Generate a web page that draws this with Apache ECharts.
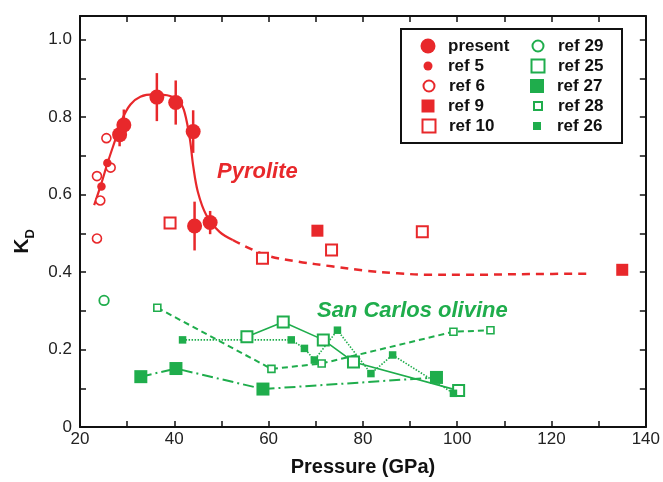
<!DOCTYPE html>
<html><head><meta charset="utf-8">
<script src="https://cdn.jsdelivr.net/npm/echarts@6/dist/echarts.min.js"></script>
<style>html,body{margin:0;padding:0;background:#fff}#c{width:663px;height:482px}</style>
</head><body><div id="c"></div>
<script>
// ---- data ----
const xTicks = [20, 40, 60, 80, 100, 120, 140];
const yTicks = [0, 0.2, 0.4, 0.6, 0.8, 1.0];

const presentX = [28.4, 29.3, 36.3, 40.3, 44.0, 44.3, 47.6];
const presentY = [0.755, 0.780, 0.852, 0.838, 0.763, 0.519, 0.528];
const presentErr = [0.03, 0.04, 0.062, 0.057, 0.055, 0.063, 0.03];

const ref5X = [24.55, 25.8];
const ref5Y = [0.621, 0.682];
const ref6X = [23.6, 24.3, 23.6, 25.6, 26.5];
const ref6Y = [0.487, 0.585, 0.648, 0.746, 0.670];
const ref9X = [70.35, 135.0];
const ref9Y = [0.507, 0.406];
const ref10X = [39.1, 58.7, 73.35, 92.6];
const ref10Y = [0.527, 0.436, 0.457, 0.504];

const ref29X = [25.1];
const ref29Y = [0.327];
const ref25X = [55.4, 63.1, 71.6, 78.0, 100.3];
const ref25Y = [0.233, 0.271, 0.225, 0.168, 0.094];
const ref27X = [32.9, 40.35, 58.8, 95.6];
const ref27Y = [0.130, 0.151, 0.098, 0.128];
const ref28X = [36.4, 60.6, 71.25, 99.2, 107.05];
const ref28Y = [0.308, 0.150, 0.164, 0.246, 0.250];
const ref26X = [41.75, 64.8, 67.6, 69.7, 74.6, 81.7, 86.3, 99.2];
const ref26Y = [0.225, 0.225, 0.203, 0.173, 0.250, 0.138, 0.186, 0.087];

const fitSolidX = [23.0, 24.4, 25.9, 27.55, 28.95, 30.7, 32.8, 35.6, 39.1, 41.2, 42.2, 43.3, 44.0, 45.0, 46.8, 49.6, 52.4];
const fitSolidY = [0.573, 0.624, 0.684, 0.744, 0.795, 0.833, 0.853, 0.859, 0.855, 0.838, 0.812, 0.744, 0.675, 0.607, 0.547, 0.504, 0.483];
const fitDashX = [52.4, 59.4, 66.4, 73.35, 80.35, 87.3, 94.3, 101.3, 115.3, 127.9];
const fitDashY = [0.483, 0.444, 0.427, 0.415, 0.404, 0.397, 0.393, 0.393, 0.395, 0.396];

const legendCol1 = ['present', 'ref 5', 'ref 6', 'ref 9', 'ref 10'];
const legendCol2 = ['ref 29', 'ref 25', 'ref 27', 'ref 28', 'ref 26'];

// ---- chart ----
const RED = '#e8282b', GREEN = '#1fad4c';
const FONT = 'Liberation Sans, Arial, Helvetica, sans-serif';
const SQUARE = 'path://M0,0L10,0L10,10L0,10Z';
const zip = (xs, ys) => xs.map((x, i) => [x, ys[i]]);

const chart = echarts.init(document.getElementById('c'), null, {renderer: 'canvas'});

function scatter(name, xs, ys, symbol, size, color, open, bw) {
  return {
    type: 'scatter', name, data: zip(xs, ys), symbol, symbolSize: size, z: 5,
    itemStyle: open ? {color: '#fff', borderColor: color, borderWidth: bw || 2, opacity: 1}
                    : {color: color, opacity: 1}
  };
}
function line(name, xs, ys, color, width, type, smooth) {
  return {
    type: 'line', name, data: zip(xs, ys), showSymbol: false, symbol: 'none', z: 3,
    smooth: smooth || false, silent: true,
    lineStyle: {color, width, type}
  };
}

const legendSizes = {
  'present': 15, 'ref 5': 9, 'ref 6': 11, 'ref 9': 13, 'ref 10': 13,
  'ref 29': 11, 'ref 25': 13, 'ref 27': 14, 'ref 28': 8, 'ref 26': 8
};
const rowCenters = [46, 66, 86, 106, 126];
const legends = [];
[[legendCol1, 428], [legendCol2, 537]].forEach(([names, cx]) => {
  names.forEach((n, i) => {
    const h = legendSizes[n];
    legends.push({
      data: [n], left: cx - h / 2, top: rowCenters[i] - 8.5, padding: 0,
      itemWidth: 30, itemHeight: h, selectedMode: false,
      textStyle: {fontFamily: FONT, fontSize: 17, fontWeight: 'bold', color: '#111'}
    });
  });
});

const axisCommon = {
  type: 'value', splitLine: {show: false},
  axisLine: {show: true, onZero: false, lineStyle: {color: '#111', width: 2}},
  axisTick: {show: true, inside: true, length: 6, lineStyle: {color: '#111', width: 1.5}}
};

const option = {
  backgroundColor: '#fff',
  animation: false,
  grid: {left: 80, right: 11, top: 16, bottom: 52, containLabel: false},
  legend: legends,
  xAxis: [
    Object.assign({}, axisCommon, {
      position: 'bottom', min: 20, max: 140, interval: 10,
      name: 'Pressure (GPa)', nameLocation: 'middle', nameGap: 30,
      nameTextStyle: {fontFamily: FONT, fontSize: 20, fontWeight: 'bold', color: '#111'},
      axisLabel: {
        show: true, interval: 0, margin: 4, fontFamily: FONT, fontSize: 17, color: '#222',
        formatter: v => xTicks.indexOf(v) >= 0 ? String(v) : ''
      }
    }),
    Object.assign({}, axisCommon, {
      position: 'top', min: 20, max: 140, interval: 10, axisLabel: {show: false}
    })
  ],
  yAxis: [
    Object.assign({}, axisCommon, {
      position: 'left', min: 0, max: 1.0615, interval: 0.1,
      name: '{k|K}{d|D}', nameLocation: 'middle', nameRotate: 90, nameGap: 43,
      nameTextStyle: {
        padding: [0, 40, 0, 0],
        rich: {
          k: {fontFamily: FONT, fontSize: 21, fontWeight: 'bold', color: '#111', lineHeight: 30},
          d: {fontFamily: FONT, fontSize: 13, fontWeight: 'bold', color: '#111', lineHeight: 13, verticalAlign: 'bottom'}
        }
      },
      axisLabel: {
        show: true, interval: 0, margin: 8, fontFamily: FONT, fontSize: 17, color: '#222',
        formatter: v => {
          const t = yTicks.find(t => Math.abs(t - v) < 1e-6);
          return t === undefined ? '' : (t === 0 ? '0' : t.toFixed(1));
        }
      }
    }),
    Object.assign({}, axisCommon, {
      position: 'right', min: 0, max: 1.0615, interval: 0.1, axisLabel: {show: false}
    })
  ],
  graphic: [
    {type: 'rect', shape: {x: 401, y: 29, width: 221, height: 114},
     style: {fill: 'none', stroke: '#111', lineWidth: 2}, z: 10, silent: true},
    {type: 'text', left: 217, top: 161, z: 10,
     style: {text: 'Pyrolite', fill: RED, font: 'italic bold 22px ' + FONT}},
    {type: 'text', left: 317, top: 300, z: 10,
     style: {text: 'San Carlos olivine', fill: GREEN, font: 'italic bold 22px ' + FONT}}
  ],
  series: [
    line('fit solid', fitSolidX, fitSolidY, RED, 2.2, 'solid', 0.35),
    line('fit dashed', fitDashX, fitDashY, RED, 2.5, [8, 6], 0.35),
    line('ref 25 line', ref25X, ref25Y, GREEN, 1.6, 'solid'),
    line('ref 28 line', ref28X, ref28Y, GREEN, 2, [6, 4]),
    line('ref 27 line', ref27X, ref27Y, GREEN, 2, [11, 4, 2, 4]),
    line('ref 26 line', ref26X, ref26Y, GREEN, 1.6, [1.5, 1.5]),
    {
      type: 'custom', name: 'error bars', z: 4, silent: true,
      data: presentX.map((x, i) => [x, presentY[i], presentErr[i]]),
      encode: {x: 0, y: 1},
      renderItem: (params, api) => {
        const x = api.value(0), y = api.value(1), e = api.value(2);
        const p1 = api.coord([x, y - e]), p2 = api.coord([x, y + e]);
        return {type: 'line', shape: {x1: p1[0], y1: p1[1], x2: p2[0], y2: p2[1]},
                style: {stroke: RED, lineWidth: 2.5}};
      }
    },
    scatter('ref 6', ref6X, ref6Y, 'circle', 9, RED, true, 1.6),
    scatter('ref 10', ref10X, ref10Y, SQUARE, 11, RED, true, 2),
    scatter('ref 9', ref9X, ref9Y, SQUARE, 12, RED, false),
    scatter('ref 5', ref5X, ref5Y, 'circle', 8.5, RED, false),
    scatter('present', presentX, presentY, 'circle', 15, RED, false),
    scatter('ref 29', ref29X, ref29Y, 'circle', 9.5, GREEN, true, 1.8),
    scatter('ref 25', ref25X, ref25Y, SQUARE, 11, GREEN, true, 2),
    scatter('ref 27', ref27X, ref27Y, SQUARE, 13, GREEN, false),
    scatter('ref 28', ref28X, ref28Y, SQUARE, 7, GREEN, true, 1.6),
    scatter('ref 26', ref26X, ref26Y, SQUARE, 7.5, GREEN, false)
  ]
};
chart.setOption(option);
</script>
</body></html>
